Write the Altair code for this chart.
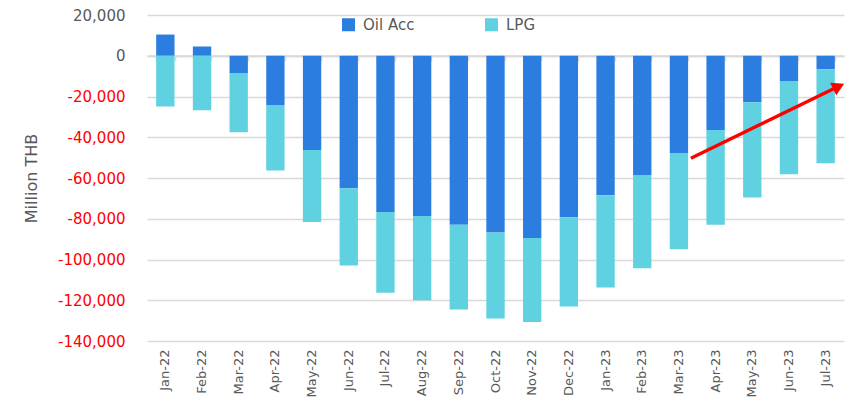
import altair as alt
import pandas as pd

months = ["Jan-22", "Feb-22", "Mar-22", "Apr-22", "May-22", "Jun-22", "Jul-22",
          "Aug-22", "Sep-22", "Oct-22", "Nov-22", "Dec-22", "Jan-23", "Feb-23",
          "Mar-23", "Apr-23", "May-23", "Jun-23", "Jul-23"]
oil_acc = [10400, 4600, -8500, -24200, -46300, -65000, -76700, -78600, -83000,
           -86800, -89400, -79300, -68500, -58500, -47700, -36400, -22900, -12400, -6700]
lpg = [-24900, -26700, -29000, -32100, -35300, -37900, -39600, -41400, -41500,
       -42100, -41300, -43800, -45300, -45800, -47300, -46500, -46700, -45800, -46000]
series = ["Oil Acc", "LPG"]
colors = ["#2B7DE0", "#5FD1E0"]
y_ticks = list(range(-140000, 20001, 20000))

# trend arrow annotation (from / to)
arrow_from = ["Mar-23"]
arrow_to = ["Jul-23"]
arrow_y_from = [-50300]
arrow_y_to = [-15700]
arrow_head_y = [-15000]

rows = []
for i, m in enumerate(months):
    rows.append({"month": m, "series": "Oil Acc", "value": oil_acc[i], "ord": 0})
    rows.append({"month": m, "series": "LPG", "value": lpg[i], "ord": 1})
df = pd.DataFrame(rows)

W, H = 697, 326
font = "DejaVu Sans"
grey = "#595959"
gridc = "#d9d9d9"

xscale = alt.Scale(domain=months, paddingInner=0.5, paddingOuter=0.25)
yscale = alt.Scale(domain=[-140000, 20000], nice=False, zero=False)

bars = alt.Chart(df).mark_bar().encode(
    x=alt.X("month:N", sort=months, scale=xscale,
            axis=alt.Axis(title=None, labelAngle=-90, ticks=False, domain=False,
                          labelFontSize=13, labelColor=grey, labelPadding=8,
                          labelFont=font, grid=False)),
    y=alt.Y("value:Q", stack="zero", scale=yscale,
            axis=alt.Axis(values=y_ticks, title="Million THB",
                          labelExpr="(datum.value < 0 ? '-' : '') + format(abs(datum.value), ',')",
                          labelColor=alt.condition("datum.value < 0", alt.value("#FF0000"), alt.value(grey)),
                          grid=True, gridColor=gridc, gridWidth=1.5, domain=False, ticks=False,
                          labelFontSize=15, labelPadding=22, labelFont=font,
                          titleFontSize=16, titleFontWeight="normal", titleColor=grey,
                          titleFont=font, titlePadding=18)),
    color=alt.Color("series:N", sort=series,
                    scale=alt.Scale(domain=series, range=colors),
                    legend=alt.Legend(title=None, orient="none", legendX=194, legendY=2,
                                      direction="horizontal", columns=2, symbolType="square",
                                      symbolSize=169, symbolStrokeWidth=0, labelFontSize=15,
                                      labelColor=grey, labelFont=font, columnPadding=69,
                                      labelOffset=7)),
    order=alt.Order("ord:Q"),
)

zero_df = pd.DataFrame({"month": months, "v": [0] * len(months)})
zero_axis = alt.Chart(zero_df).mark_point(opacity=0).encode(
    x=alt.X("month:N", sort=months, scale=xscale,
            axis=alt.Axis(orient="bottom", offset=-(H - H * 20000 / 160000), labels=False,
                          title=None, ticks=True, tickBand="extent", tickSize=5,
                          tickColor=gridc, tickWidth=1.5, domain=True, domainColor=gridc,
                          domainWidth=2, grid=False)),
    y=alt.Y("v:Q", scale=yscale, axis=None),
)

arrow_df = pd.DataFrame({"x1": arrow_from, "x2": arrow_to, "y1": arrow_y_from, "y2": arrow_y_to})
arrow_line = alt.Chart(arrow_df).mark_rule(color="#FF0000", strokeWidth=3.5,
                                           xOffset=12, x2Offset=10).encode(
    x=alt.X("x1:N", sort=months, scale=xscale, axis=None),
    x2="x2:N",
    y=alt.Y("y1:Q", scale=yscale, axis=None),
    y2="y2:Q",
)
head_df = pd.DataFrame({"x": arrow_to, "y": arrow_head_y})
arrow_head = alt.Chart(head_df).mark_point(shape="triangle-up", filled=True, color="#FF0000",
                                           opacity=1, size=200, angle=64, xOffset=13,
                                           strokeWidth=0).encode(
    x=alt.X("x:N", sort=months, scale=xscale, axis=None),
    y=alt.Y("y:Q", scale=yscale, axis=None),
)

chart = alt.layer(bars, zero_axis, arrow_line, arrow_head).resolve_axis(
    x="independent", y="independent"
).properties(
    width=W, height=H, padding={"left": 15, "top": 0, "right": 0, "bottom": 0},
    background="white",
).configure_view(stroke=None)

chart.save("out.html", embed_options={"renderer": "svg", "actions": False})
